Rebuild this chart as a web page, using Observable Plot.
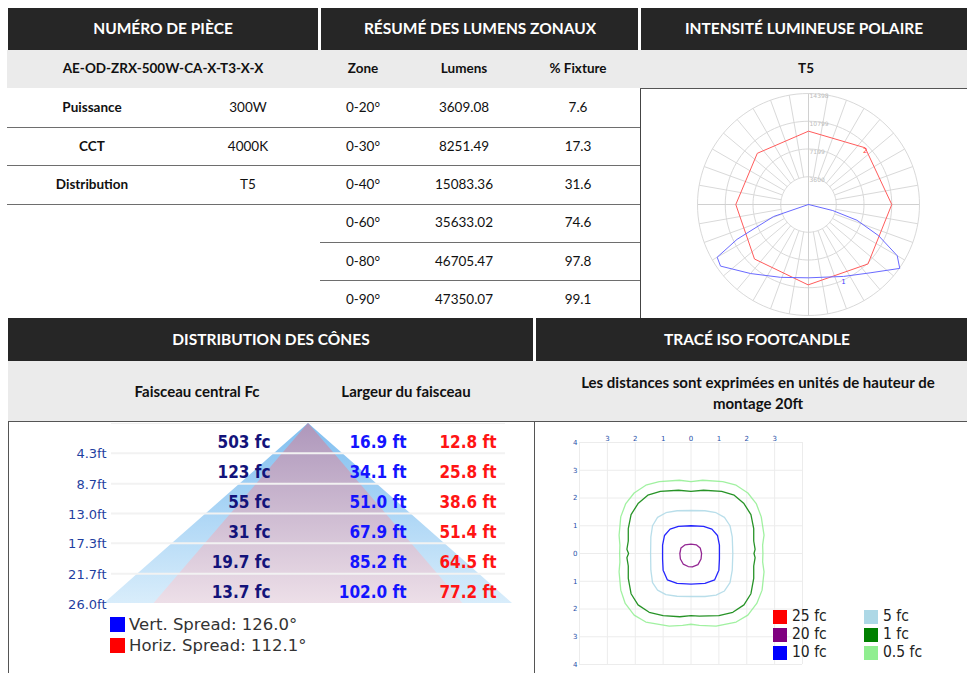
<!DOCTYPE html>
<html><head><meta charset="utf-8">
<script src="https://cdn.jsdelivr.net/npm/d3@7"></script>
<script src="https://cdn.jsdelivr.net/npm/@observablehq/plot@0.6"></script>
<style>
body{margin:0;background:#fff;}
#page{position:relative;width:967px;height:673px;overflow:hidden;font-family:Lato,"Open Sans",sans-serif;color:#111;}
.box{position:absolute;}
.t{position:absolute;transform:translate(-50%,-50%);white-space:nowrap;font-size:13.5px;line-height:1;}
.hd{color:#fff;font-weight:700;font-size:15.5px;}
.b{font-weight:700;}
.g2{font-size:15px;}
.lg{position:absolute;white-space:nowrap;transform:translateY(-50%);line-height:1;}
svg{position:absolute;overflow:visible;}
</style></head><body><div id="page"></div>
<script>
// ---------- data ----------
const headersTop = ["NUMÉRO DE PIÈCE", "RÉSUMÉ DES LUMENS ZONAUX", "INTENSITÉ LUMINEUSE POLAIRE"];
const partNumber = "AE-OD-ZRX-500W-CA-X-T3-X-X";
const specLabels = ["Puissance", "CCT", "Distribution"];
const specValues = ["300W", "4000K", "T5"];
const zonalColumns = ["Zone", "Lumens", "% Fixture"];
const zones = ["0-20°", "0-30°", "0-40°", "0-60°", "0-80°", "0-90°"];
const zoneLumens = [3609.08, 8251.49, 15083.36, 35633.02, 46705.47, 47350.07];
const zonePercent = [7.6, 17.3, 31.6, 74.6, 97.8, 99.1];
const polarTitle = "T5";

const headersBottom = ["DISTRIBUTION DES CÔNES", "TRACÉ ISO FOOTCANDLE"];
const coneColumns = ["Faisceau central Fc", "Largeur du faisceau"];
const isoNote = ["Les distances sont exprimées en unités de hauteur de", "montage 20ft"];

// polar intensity (angle from nadir in degrees, candela)
const polarRings = [3600, 7199, 10799, 14398];
const redAngles = [0, 45, 90, 135, 180, -135, -90, -45];
const redCandela = [10410, 10910, 10800, 10400, 9510, 9390, 9430, 9930];
const blueAngles = [90, 76, 72, 66, 60, 55, 42, 26, 0, -21, -40, -55, -60, -64, -71, -90];
const blueCandela = [0, 3245, 6600, 9960, 13290, 14450, 11930, 10380, 9510, 10120, 11690, 13930, 13680, 10310, 4800, 0];

// cone distribution
const coneHeights = [4.3, 8.7, 13.0, 17.3, 21.7, 26.0];
const coneFc = [503, 123, 55, 31, 19.7, 13.7];
const coneVertWidth = [16.9, 34.1, 51.0, 67.9, 85.2, 102.0];
const coneHorizWidth = [12.8, 25.8, 38.6, 51.4, 64.5, 77.2];
const spreadLabels = ["Vert. Spread: 126.0°", "Horiz. Spread: 112.1°"];

// iso footcandle contours (mounting-height units)
const isoLevels = ["25 fc", "20 fc", "10 fc", "5 fc", "1 fc", "0.5 fc"];
const isoColors = ["#ff0000", "#800080", "#0000ff", "#add8e6", "#008000", "#90ee90"];
const iso20 = [[0,0.34],[0.2,0.31],[0.33,0.2],[0.38,0],[0.36,-0.2],[0.25,-0.4],[0.05,-0.48],[-0.1,-0.47],[-0.28,-0.38],[-0.38,-0.2],[-0.4,0],[-0.36,0.2],[-0.22,0.31]];
const iso10 = [[0,1.0],[0.45,0.98],[0.75,0.88],[0.95,0.65],[1.02,0.3],[1.02,-0.2],[1.0,-0.6],[0.85,-0.95],[0.5,-1.08],[0,-1.1],[-0.5,-1.08],[-0.85,-0.95],[-1.0,-0.6],[-1.02,-0.2],[-1.02,0.3],[-0.95,0.65],[-0.75,0.88],[-0.45,0.98]];
const iso5 = [[0,1.55],[0.5,1.54],[0.9,1.47],[1.2,1.3],[1.4,1.0],[1.48,0.6],[1.5,0],[1.48,-0.6],[1.4,-1.05],[1.2,-1.35],[0.9,-1.5],[0.5,-1.55],[0,-1.55],[-0.5,-1.54],[-0.9,-1.48],[-1.2,-1.32],[-1.38,-1.05],[-1.44,-0.6],[-1.45,0],[-1.44,0.6],[-1.38,1.0],[-1.2,1.3],[-0.9,1.47],[-0.5,1.54]];
const iso1 = [[0,2.24],[0.45,2.28],[1.1,2.24],[1.55,2.1],[1.9,1.8],[2.15,1.4],[2.25,0.9],[2.25,0.45],[2.3,0.15],[2.26,0],[2.3,-0.15],[2.25,-0.45],[2.25,-0.9],[2.15,-1.45],[1.9,-1.85],[1.5,-2.12],[1.0,-2.24],[0.3,-2.26],[0,-2.24],[-0.4,-2.28],[-1.0,-2.24],[-1.5,-2.12],[-1.9,-1.85],[-2.15,-1.45],[-2.25,-0.9],[-2.25,-0.45],[-2.3,-0.15],[-2.24,0],[-2.3,0.15],[-2.25,0.45],[-2.25,0.9],[-2.15,1.4],[-1.9,1.8],[-1.55,2.1],[-1.1,2.24],[-0.45,2.28]];
const iso05 = [[0,2.59],[0.42,2.64],[1.14,2.59],[1.62,2.46],[2.04,2.18],[2.34,1.8],[2.52,1.32],[2.62,0.66],[2.57,0.3],[2.58,0],[2.57,-0.3],[2.62,-0.66],[2.55,-1.32],[2.36,-1.8],[2.04,-2.22],[1.62,-2.47],[0.9,-2.62],[0.3,-2.59],[0,-2.55],[-0.3,-2.59],[-0.78,-2.62],[-1.62,-2.47],[-2.04,-2.22],[-2.36,-1.8],[-2.52,-1.32],[-2.58,-0.66],[-2.55,-0.3],[-2.56,0],[-2.55,0.3],[-2.58,0.66],[-2.52,1.32],[-2.34,1.8],[-2.04,2.18],[-1.62,2.46],[-1.14,2.59],[-0.42,2.64]];
const isoTicks = [-4, -3, -2, -1, 0, 1, 2, 3, 4];
const isoTopTicks = [-3, -2, -1, 0, 1, 2, 3];

// ---------- layout helpers ----------
const page = document.getElementById("page");
function box(x, y, w, h, bg) {
  const d = document.createElement("div"); d.className = "box";
  Object.assign(d.style, {left: x + "px", top: y + "px", width: w + "px", height: h + "px", background: bg});
  page.appendChild(d); return d;
}
function txt(s, x, y, cls = "", style = {}) {
  const d = document.createElement("div"); d.className = "t " + cls; d.textContent = s;
  Object.assign(d.style, {left: x + "px", top: y + "px"}, style);
  page.appendChild(d); return d;
}
function place(svg, x, y) { svg.style.left = x + "px"; svg.style.top = y + "px"; page.appendChild(svg); }

// top headers
box(8, 8, 310, 42, "#262626"); box(321, 8, 317, 42, "#262626"); box(641, 8, 326, 42, "#262626");
txt(headersTop[0], 163, 29, "hd"); txt(headersTop[1], 480, 29, "hd"); txt(headersTop[2], 804, 29, "hd");
box(7, 50, 960, 38, "#ebebeb");
txt(partNumber, 163, 69, "b");
const zx = [363, 464, 578];
zonalColumns.forEach((c, i) => txt(c, zx[i], 69, "b"));
txt(polarTitle, 806, 69, "b");

const rowY = [108, 147, 185, 223, 262, 300];
const lineY = [127, 165, 204, 242, 280];
lineY.forEach((y, i) => box(i < 3 ? 7 : 320, y, i < 3 ? 633 : 320, 1, "#6e6e6e"));
specLabels.forEach((s, i) => { txt(s, 92, rowY[i], "b"); txt(specValues[i], 248, rowY[i]); });
zones.forEach((z, i) => {
  txt(z, zx[0], rowY[i]);
  txt(zoneLumens[i].toFixed(2), zx[1], rowY[i]);
  txt(zonePercent[i].toFixed(1), zx[2], rowY[i]);
});
// polar panel border
box(640, 88, 1, 230, "#444"); box(640, 88, 327, 1, "#555");

// bottom headers
box(8, 318, 525, 43, "#262626"); box(536, 318, 431, 43, "#262626");
txt(headersBottom[0], 271, 340, "hd"); txt(headersBottom[1], 757, 340, "hd");
box(8, 361, 959, 60, "#ebebeb");
txt(coneColumns[0], 197, 391, "b g2"); txt(coneColumns[1], 406, 391, "b g2");
txt(isoNote[0], 758, 382, "b g2"); txt(isoNote[1], 758, 403, "b g2");
box(8, 421, 959, 1, "#555"); box(8, 421, 1, 252, "#555"); box(534, 421, 1, 252, "#555");

// ---------- polar plot ----------
const R = polarRings[polarRings.length - 1];
const rad = a => a * Math.PI / 180;
const px = (a, r) => r * Math.sin(rad(a));
const py = (a, r) => -r * Math.cos(rad(a));
const ringPts = polarRings.flatMap(r => d3.range(0, 360, 3).map(a => ({ring: r, a, r})));
const spokes = d3.range(0, 360, 10).filter(a => a % 90 !== 0);
const crossAngles = [0, 90];
const redData = redAngles.map((a, i) => ({a, r: redCandela[i]}));
const blueData = blueAngles.map((a, i) => ({a, r: blueCandela[i]}));
const polar = Plot.plot({
  width: 326, height: 229,
  marginLeft: 56, marginRight: 48, marginTop: 4, marginBottom: 3,
  x: {domain: [-R, R], axis: null},
  y: {domain: [-R, R], axis: null},
  style: {background: "transparent", fontFamily: "DejaVu Sans, sans-serif"},
  marks: [
    Plot.line(ringPts, {x: d => px(d.a, d.r), y: d => py(d.a, d.r), z: "ring", curve: "linear-closed", stroke: "#d9d9d9", strokeWidth: 1}),
    Plot.link(spokes, {x1: a => px(a, polarRings[0]), y1: a => py(a, polarRings[0]), x2: a => px(a, R), y2: a => py(a, R), stroke: "#d9d9d9", strokeWidth: 1}),
    Plot.link(crossAngles, {x1: a => px(a, -R), y1: a => py(a, -R), x2: a => px(a, R), y2: a => py(a, R), stroke: "#d0d0d0", strokeWidth: 1}),
    Plot.text(polarRings, {x: 0, y: r => r, text: r => String(r), textAnchor: "start", dx: 1, dy: 3, fill: "#bdbdbd", fontSize: 6}),
    Plot.line(redData, {x: d => px(d.a, d.r), y: d => py(d.a, d.r), curve: "linear-closed", stroke: "#ff5b5b", strokeWidth: 1}),
    Plot.line(blueData, {x: d => px(d.a, d.r), y: d => py(d.a, d.r), stroke: "#6a6aff", strokeWidth: 1}),
    Plot.text([redData[3]], {x: d => px(d.a, d.r), y: d => py(d.a, d.r), text: () => "2", fill: "#ff4040", fontSize: 7, dy: 3}),
    Plot.text([blueData[7]], {x: d => px(d.a, d.r), y: d => py(d.a, d.r), text: () => "1", fill: "#4040ff", fontSize: 7, dy: 5})
  ]
});
place(polar, 641, 89);

// ---------- cone distribution ----------
const coneRows = coneHeights.map((h, i) => ({h, fc: coneFc[i], v: coneVertWidth[i], hz: coneHorizWidth[i]}));
const coneProfile = [{h: 0, v: 0, hz: 0}, ...coneRows];
const NS = "http://www.w3.org/2000/svg";
function gradientDefs() {
  const defs = document.createElementNS(NS, "defs");
  const mk = (id, top, bottom) => {
    const g = document.createElementNS(NS, "linearGradient");
    g.setAttribute("id", id); g.setAttribute("x1", "0"); g.setAttribute("y1", "0"); g.setAttribute("x2", "0"); g.setAttribute("y2", "1");
    [[0, top], [1, bottom]].forEach(([o, c]) => {
      const s = document.createElementNS(NS, "stop"); s.setAttribute("offset", o); s.setAttribute("stop-color", c); g.appendChild(s);
    });
    defs.appendChild(g);
  };
  mk("coneBlue", "#80bff0", "#d9edfb");
  mk("coneMauve", "#ae97bb", "#eddfe8");
  return defs;
}
const halfMax = d3.max(coneVertWidth) / 2;
const cone = Plot.plot({
  width: 526, height: 252,
  marginLeft: 96, marginRight: 22, marginTop: 2, marginBottom: 70,
  x: {domain: [-halfMax, halfMax], axis: null},
  y: {domain: [0, d3.max(coneHeights)], reverse: true, axis: null},
  style: {background: "transparent", fontFamily: "DejaVu Sans Condensed, DejaVu Sans, sans-serif"},
  marks: [
    gradientDefs,
    Plot.ruleY([0], {stroke: "#f0f0f0", strokeWidth: 1, insetLeft: 7, insetRight: 7}),
    Plot.areaX(coneProfile, {y: "h", x1: d => -d.v / 2, x2: d => d.v / 2, fill: "url(#coneBlue)"}),
    Plot.areaX(coneProfile, {y: "h", x1: d => -d.hz / 2, x2: d => d.hz / 2, fill: "url(#coneMauve)"}),
    Plot.ruleY(coneHeights.slice(0, -1), {stroke: "#f2f2f2", strokeWidth: 2, insetLeft: 7, insetRight: 7}),
    Plot.axisY(coneHeights, {ticks: coneHeights, tickFormat: d => d.toFixed(1) + "ft", tickSize: 0, tickPadding: 0, dx: 2, dy: 1, fill: "#1f3f9f", fontSize: 13, fontFamily: "DejaVu Sans, sans-serif", label: null}),
    Plot.text(coneRows, {y: "h", text: d => d.fc + " fc", frameAnchor: "left", dx: 166, dy: -11, textAnchor: "end", fill: "#13137a", fontWeight: "bold", fontSize: 17}),
    Plot.text(coneRows, {y: "h", text: d => d.v.toFixed(1) + " ft", frameAnchor: "left", dx: 302, dy: -11, textAnchor: "end", fill: "#1414ff", fontWeight: "bold", fontSize: 17}),
    Plot.text(coneRows, {y: "h", text: d => d.hz.toFixed(1) + " ft", frameAnchor: "left", dx: 392, dy: -11, textAnchor: "end", fill: "#ff1414", fontWeight: "bold", fontSize: 17})
  ]
});
place(cone, 8, 421);
// cone legend
[["#0000ff", 625], ["#ff0000", 646]].forEach(([c, y], i) => {
  box(110, y - 8, 15, 15, c);
  const d = document.createElement("div"); d.className = "lg"; d.textContent = spreadLabels[i];
  Object.assign(d.style, {left: "129px", top: y + "px", fontFamily: "DejaVu Sans, sans-serif", fontSize: "16.5px", color: "#333"});
  page.appendChild(d);
});

// ---------- iso footcandle ----------
const isoCurves = [null, iso20, iso10, iso5, iso1, iso05];
const isoMarks = [];
isoCurves.forEach((pts, i) => {
  if (!pts) return;
  isoMarks.push(Plot.line(pts, {x: d => d[0], y: d => d[1], curve: "linear-closed", stroke: isoColors[i], strokeWidth: 1.3, strokeOpacity: 0.85}));
});
const iso = Plot.plot({
  width: 431, height: 251,
  marginLeft: 43, marginRight: 165, marginTop: 20, marginBottom: 9,
  x: {domain: [-4, 4], axis: null},
  y: {domain: [-4, 4], axis: null},
  style: {background: "transparent", fontFamily: "DejaVu Sans, sans-serif"},
  marks: [
    Plot.gridX(isoTicks, {stroke: "#ececec", strokeOpacity: 1}),
    Plot.gridY(isoTicks, {stroke: "#ececec", strokeOpacity: 1}),
    Plot.axisX(isoTopTicks, {anchor: "top", ticks: isoTopTicks, tickFormat: d => Math.abs(d), tickSize: 0, tickPadding: 2, fill: "#2850a8", fontSize: 7, label: null}),
    Plot.axisY(isoTicks, {anchor: "left", ticks: isoTicks, tickFormat: d => Math.abs(d), tickSize: 0, tickPadding: 2, fill: "#2850a8", fontSize: 7, label: null}),
    ...isoMarks
  ]
});
place(iso, 536, 422);
// iso legend
isoLevels.forEach((lab, i) => {
  const col = Math.floor(i / 3), row = i % 3;
  const x = col ? 864 : 773, y = 617 + row * 18;
  box(x, y - 7, 14, 14, isoColors[i]);
  const d = document.createElement("div"); d.className = "lg"; d.textContent = lab;
  Object.assign(d.style, {left: (x + 19) + "px", top: y + "px", fontFamily: "DejaVu Sans Condensed, DejaVu Sans, sans-serif", fontSize: "15.5px", color: "#222"});
  page.appendChild(d);
});
</script></body></html>
